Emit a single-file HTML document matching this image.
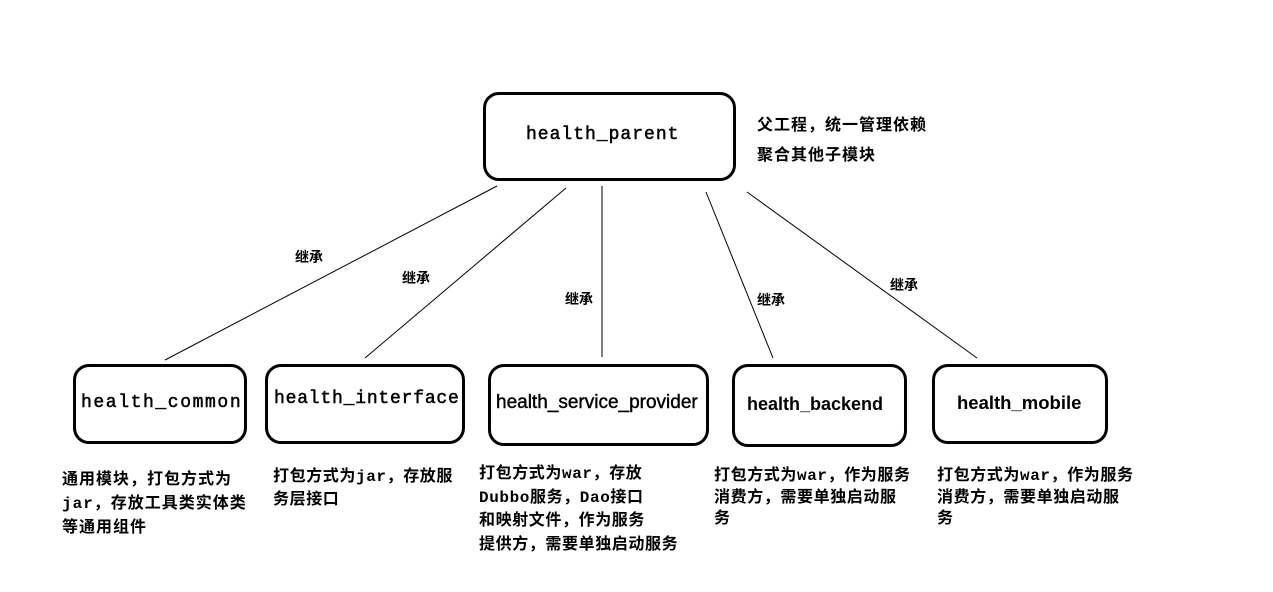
<!DOCTYPE html>
<html><head><meta charset="utf-8"><style>
body{margin:0;width:1273px;height:592px;background:#fff;position:relative;overflow:hidden;font-family:"Liberation Sans","Noto Sans CJK SC",sans-serif;}
.b{position:absolute;border:3px solid #000;border-radius:16px;box-sizing:border-box;}
.l{position:absolute;white-space:nowrap;color:#000;}
.m{font-family:"Liberation Mono","Noto Sans CJK SC",monospace;font-size:18px;letter-spacing:1px;-webkit-text-stroke:0.5px #000;}
.s{font-family:"Liberation Sans","Noto Sans CJK SC",sans-serif;font-size:18px;font-weight:bold;}
.t{position:absolute;font-size:16px;letter-spacing:1px;font-weight:bold;line-height:23px;white-space:nowrap;font-family:"Liberation Mono","Noto Sans CJK SC",sans-serif;}
.k{position:absolute;font-size:14px;font-weight:bold;white-space:nowrap;font-family:"Liberation Sans","Noto Sans CJK SC",sans-serif;}
</style></head><body>
<svg width="1273" height="592" style="position:absolute;left:0;top:0">
<g stroke="#000" stroke-width="1" fill="none">
<line x1="497" y1="186" x2="165" y2="360"/>
<line x1="566" y1="188" x2="365" y2="358"/>
<line x1="602" y1="186" x2="602" y2="357"/>
<line x1="706" y1="192" x2="773" y2="358"/>
<line x1="747" y1="192" x2="977" y2="358"/>
</g></svg>
<div class="b" style="left:483px;top:92px;width:253px;height:89px"></div>
<div class="l m" style="left:526px;top:125px">health_parent</div>
<div class="t" style="left:757px;top:111px;line-height:30px">父工程，统一管理依赖<br>聚合其他子模块</div>
<div class="b" style="left:73px;top:364px;width:174px;height:80px"></div>
<div class="l m" style="left:81px;top:393px;font-size:18px;letter-spacing:1.6px">health_common</div>
<div class="b" style="left:265px;top:364px;width:200px;height:80px"></div>
<div class="l m" style="left:274px;top:389px;letter-spacing:0.8px">health_interface</div>
<div class="b" style="left:488px;top:364px;width:221px;height:82px"></div>
<div class="l s" style="left:496px;top:392px;font-size:19px;font-weight:normal;-webkit-text-stroke:0.4px #000">health_service_provider</div>
<div class="b" style="left:732px;top:364px;width:175px;height:83px"></div>
<div class="l s" style="left:747px;top:394px">health_backend</div>
<div class="b" style="left:932px;top:364px;width:176px;height:80px"></div>
<div class="l s" style="left:957px;top:392px;font-size:18.5px">health_mobile</div>
<div class="k" style="left:295px;top:247px">继承</div>
<div class="k" style="left:402px;top:268px">继承</div>
<div class="k" style="left:565px;top:289px">继承</div>
<div class="k" style="left:757px;top:290px">继承</div>
<div class="k" style="left:890px;top:275px">继承</div>
<div class="t" style="left:62px;top:468px;line-height:24px">通用模块，打包方式为<br>jar，存放工具类实体类<br>等通用组件</div>
<div class="t" style="left:273px;top:466px;letter-spacing:0.6px">打包方式为jar，存放服<br>务层接口</div>
<div class="t" style="left:479px;top:463px;line-height:23.5px;letter-spacing:0.6px">打包方式为war，存放<br>Dubbo服务，Dao接口<br>和映射文件，作为服务<br>提供方，需要单独启动服务</div>
<div class="t" style="left:714px;top:466px;line-height:21.5px;letter-spacing:0.6px">打包方式为war，作为服务<br>消费方，需要单独启动服<br>务</div>
<div class="t" style="left:937px;top:466px;line-height:21.5px;letter-spacing:0.6px">打包方式为war，作为服务<br>消费方，需要单独启动服<br>务</div>
</body></html>
